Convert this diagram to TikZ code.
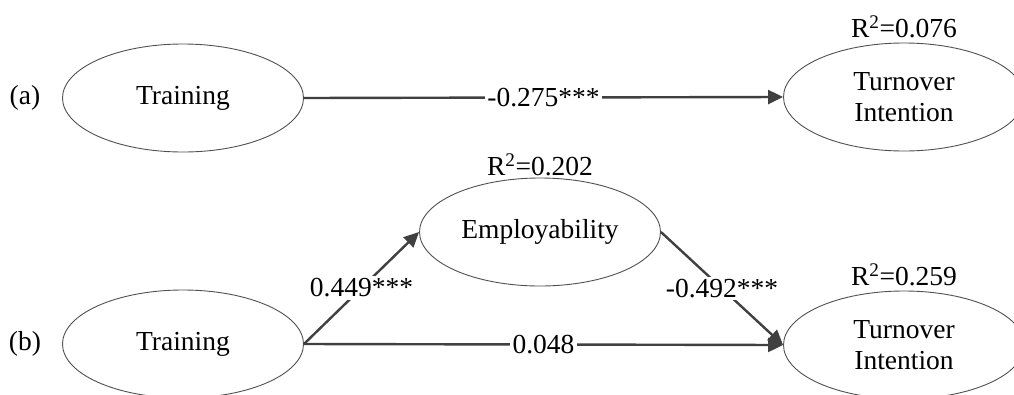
\documentclass[tikz,border=0pt]{standalone}
\usepackage{fontspec}
\setmainfont{Liberation Serif}
\usetikzlibrary{shapes.geometric,arrows.meta}
\definecolor{arrowgray}{HTML}{404040}
\definecolor{linegray}{HTML}{505050}
\begin{document}
\begin{tikzpicture}[x=1pt,y=-1pt,
  every node/.style={font=\fontsize{27.5}{31}\selectfont},
  latent/.style={ellipse,draw=linegray,line width=0.9pt,minimum width=241pt,minimum height=108pt,inner sep=0pt,align=center},
  path/.style={draw=arrowgray,line width=2.4pt,-{Triangle[length=15pt,width=14pt]}},
  coef/.style={fill=white,inner sep=2.5pt},
  rsq/.style={inner sep=0pt}]
\useasboundingbox (0,0) rectangle (1014,394);
% (a)
\node (la) at (25,98) {(a)};
\node[latent] (tra) at (183,98) {Training};
\node[latent] (tia) at (904,97) {Turnover\\Intention};
\node[rsq] (ra) at (904,27) {R\textsuperscript{2}=0.076};
\draw[path] (tra.east) -- node[coef] {-0.275***} (tia.west);
% (b)
\node (lb) at (25,344) {(b)};
\node[latent] (trb) at (183,344) {Training};
\node[latent] (emp) at (540,232) {Employability};
\node[rsq] (re) at (540,165) {R\textsuperscript{2}=0.202};
\node[latent] (tib) at (904,345) {Turnover\\Intention};
\node[rsq] (rb) at (904,275) {R\textsuperscript{2}=0.259};
\draw[path] (trb.east) -- node[coef] {0.449***} (emp.west);
\draw[path] (emp.east) -- node[coef] {-0.492***} (tib.west);
\draw[path] (trb.east) -- node[coef] {0.048} (tib.west);
\end{tikzpicture}
\end{document}
